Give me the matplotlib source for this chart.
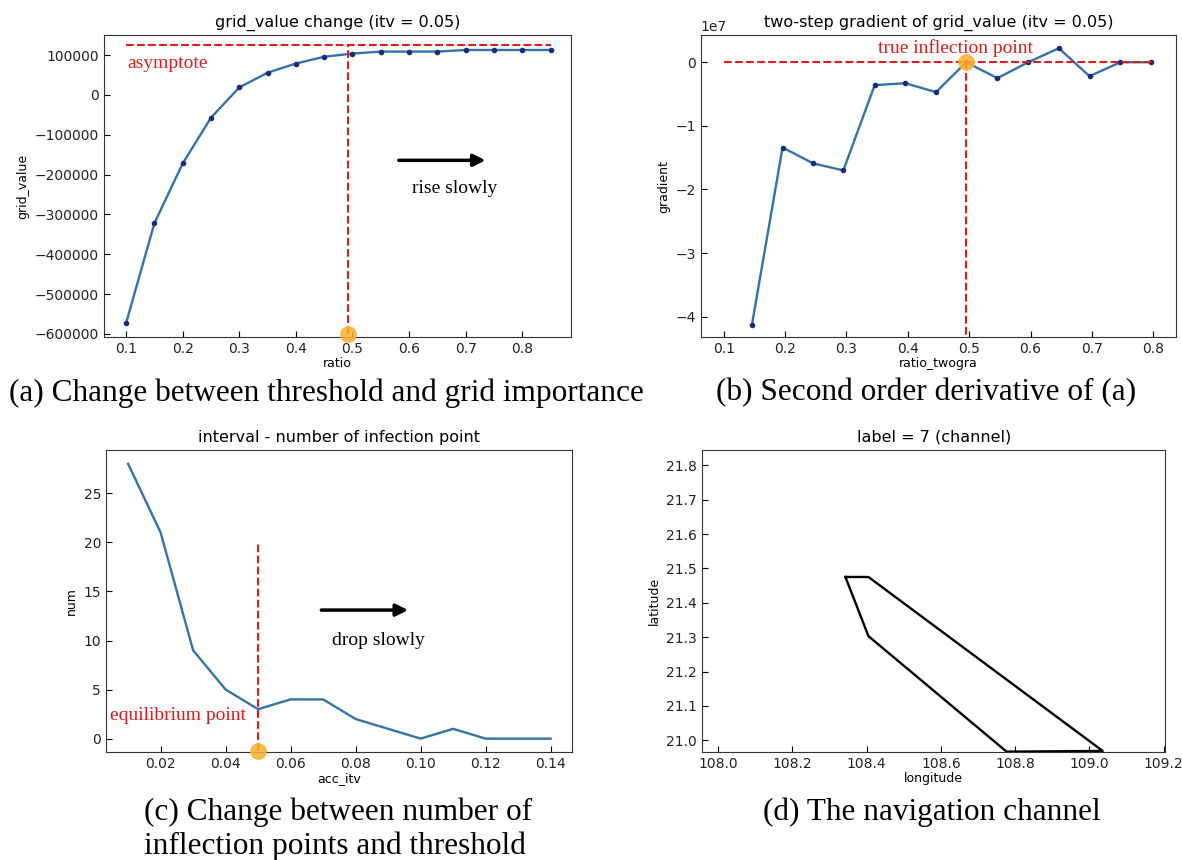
import numpy as np
import matplotlib
matplotlib.use("Agg")
import matplotlib.pyplot as plt

# (a) grid value vs ratio
ratio = [0.10, 0.15, 0.20, 0.25, 0.30, 0.35, 0.40, 0.45, 0.50, 0.55, 0.60, 0.65, 0.70, 0.75, 0.80, 0.85]
grid_value = [-573000, -322000, -172000, -57000, 19000, 56000, 79000, 96000, 104000, 109000,
              109000, 109000, 113000, 113000, 113000, 113000]

# (b) two-step gradient
ratio_twogra = [0.146, 0.196, 0.246, 0.295, 0.346, 0.396, 0.446, 0.495, 0.546, 0.596, 0.646, 0.696, 0.746, 0.796]
gradient = [-4.13e7, -1.34e7, -1.59e7, -1.70e7, -0.36e7, -0.33e7, -0.47e7, 0.0, -0.25e7, 0.0,
            0.22e7, -0.22e7, 0.0, 0.0]

# (c) number of inflection points vs interval
acc_itv = [0.01, 0.02, 0.03, 0.04, 0.05, 0.06, 0.07, 0.08, 0.09, 0.10, 0.11, 0.12, 0.13, 0.14]
num = [28, 21, 9, 5, 3, 4, 4, 2, 1, 0, 1, 0, 0, 0]

# (d) channel polygon
lon = [108.343, 108.405, 109.036, 108.777, 108.405, 108.343]
lat = [21.475, 21.475, 20.969, 20.967, 21.303, 21.475]

line_c = "#3473a6"
dot_c = "#1b2a80"
red = "#e01b1b"
orange = "#ffb02e"
serif = "Liberation Serif"

fig = plt.figure(figsize=(11.82, 8.6), dpi=100)
ax1 = fig.add_axes([0.088, 0.608, 0.395, 0.351])
ax2 = fig.add_axes([0.593, 0.608, 0.402, 0.351])
ax3 = fig.add_axes([0.0897, 0.1256, 0.394, 0.351])
ax4 = fig.add_axes([0.594, 0.1256, 0.392, 0.351])

for ax in [ax1, ax2, ax3, ax4]:
    ax.tick_params(direction="in", labelsize=10, length=4, labelcolor="#222222")
    for s in ax.spines.values():
        s.set_color("#333333")

# ---- (a)
ax1.plot(ratio, grid_value, color=line_c, lw=1.7)
ax1.plot(ratio, grid_value, "o", color=dot_c, ms=3)
ax1.plot([0.1, 0.85], [125000, 125000], "--", color=red, lw=1.5)
ax1.plot([0.492, 0.492], [-600000, 125000], "--", color=red, lw=1.5)
ax1.plot(0.492, -600000, "o", color=orange, ms=11, alpha=0.85, clip_on=False, zorder=5)
ax1.annotate("", xy=(0.74, -164000), xytext=(0.577, -164000),
             arrowprops=dict(arrowstyle="-|>", color="black", lw=2.5, mutation_scale=18))
ax1.text(0.68, -235000, "rise slowly", family=serif, fontsize=14, ha="center", va="center")
ax1.text(0.102, 79000, "asymptote", family=serif, fontsize=14, color=red, ha="left", va="center")
ax1.set_xlim(0.061, 0.886)
ax1.set_ylim(-608000, 150000)
ax1.set_xticks([0.1, 0.2, 0.3, 0.4, 0.5, 0.6, 0.7, 0.8])
ax1.set_title("grid_value change (itv = 0.05)", fontsize=11.5)
ax1.set_xlabel("ratio", fontsize=9, labelpad=1)
ax1.set_ylabel("grid_value", fontsize=9)

# ---- (b)
ax2.plot(ratio_twogra, gradient, color=line_c, lw=1.7)
ax2.plot(ratio_twogra, gradient, "o", color=dot_c, ms=3)
ax2.plot([0.1, 0.8], [0, 0], "--", color=red, lw=1.5)
ax2.plot([0.495, 0.495], [0, -4.32e7], "--", color=red, lw=1.5)
ax2.plot(0.495, 0, "o", color=orange, ms=11, alpha=0.85, zorder=5)
ax2.text(0.478, 0.22e7, "true inflection point", family=serif, fontsize=14, color=red,
         ha="center", va="center")
ax2.set_xlim(0.063, 0.837)
ax2.set_ylim(-4.32e7, 0.424e7)
ax2.set_xticks([0.1, 0.2, 0.3, 0.4, 0.5, 0.6, 0.7, 0.8])
ax2.set_title("two-step gradient of grid_value (itv = 0.05)", fontsize=11.5)
ax2.set_xlabel("ratio_twogra", fontsize=9, labelpad=1)
ax2.set_ylabel("gradient", fontsize=9)

# ---- (c)
ax3.plot(acc_itv, num, color=line_c, lw=1.7)
ax3.plot([0.05, 0.05], [-1.3, 20], "--", color=red, lw=1.5)
ax3.plot(0.05, -1.3, "o", color=orange, ms=11, alpha=0.85, clip_on=False, zorder=5)
ax3.annotate("", xy=(0.097, 13.1), xytext=(0.0686, 13.1),
             arrowprops=dict(arrowstyle="-|>", color="black", lw=2.5, mutation_scale=18))
ax3.text(0.087, 10.0, "drop slowly", family=serif, fontsize=14, ha="center", va="center")
ax3.text(0.0044, 2.4, "equilibrium point", family=serif, fontsize=14, color=red, ha="left", va="center")
ax3.set_xlim(0.0032, 0.1465)
ax3.set_ylim(-1.36, 29.4)
ax3.set_xticks([0.02, 0.04, 0.06, 0.08, 0.10, 0.12, 0.14])
ax3.set_title("interval - number of infection point", fontsize=11.5)
ax3.set_xlabel("acc_itv", fontsize=9, labelpad=1)
ax3.set_ylabel("num", fontsize=9)

# ---- (d)
ax4.plot(lon, lat, color="black", lw=1.7)
ax4.set_xlim(107.957, 109.205)
ax4.set_ylim(20.966, 21.844)
ax4.set_xticks([108.0, 108.2, 108.4, 108.6, 108.8, 109.0, 109.2])
ax4.set_yticks([21.0, 21.1, 21.2, 21.3, 21.4, 21.5, 21.6, 21.7, 21.8])
ax4.set_title("label = 7 (channel)", fontsize=11.5)
ax4.set_xlabel("longitude", fontsize=9, labelpad=1)
ax4.set_ylabel("latitude", fontsize=9)

# captions
cap = dict(family=serif, fontsize=22.5, va="center")
fig.text(326 / 1182, 1 - 393 / 860, "(a) Change between threshold and grid importance", ha="center", **cap)
fig.text(926 / 1182, 1 - 393 / 860, "(b) Second order derivative of (a)", ha="center", **cap)
fig.text(144 / 1182, 1 - 812 / 860, "(c) Change between number of", ha="left", **cap)
fig.text(144 / 1182, 1 - 846 / 860, "inflection points and threshold", ha="left", **cap)
fig.text(932 / 1182, 1 - 812 / 860, "(d) The navigation channel", ha="center", **cap)

fig.savefig("out.png", dpi=100)
